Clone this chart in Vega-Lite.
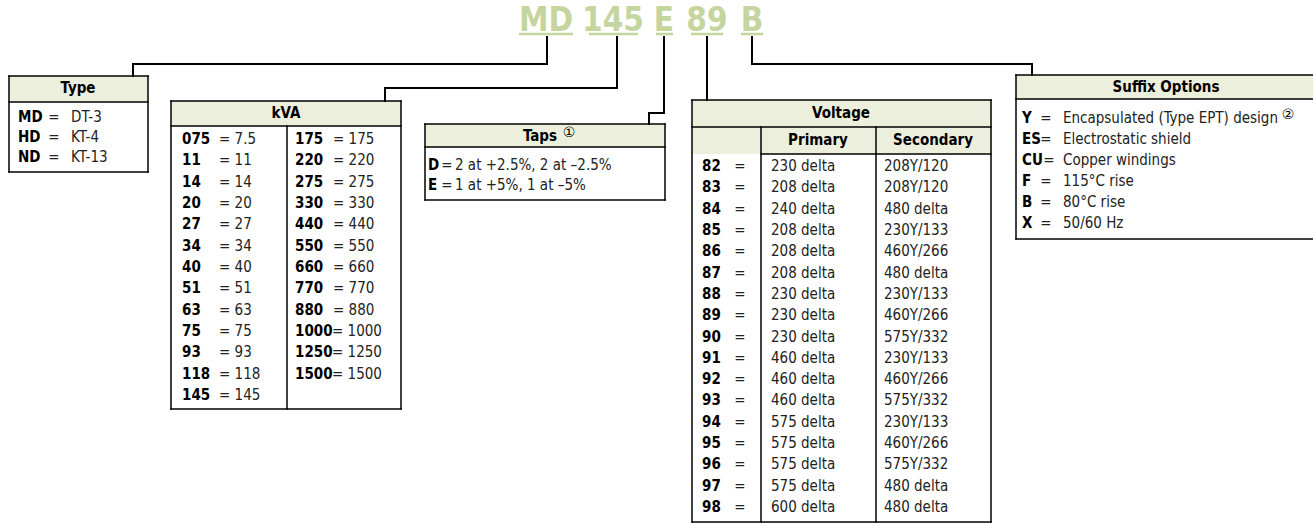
{
"$schema":"https://vega.github.io/schema/vega-lite/v6.json",
"width":1313,"height":523,"autosize":{"type":"none"},"padding":0,"background":"white",
"config":{"view":{"stroke":null},"text":{"font":"DejaVu Sans Condensed, sans-serif"}},
"datasets":{
"fills":[{"x":9,"x2":148,"y":76,"y2":102},{"x":171,"x2":401,"y":101,"y2":126},{"x":425,"x2":665,"y":124,"y2":147},{"x":692,"x2":991,"y":100,"y2":154},{"x":1016,"x2":1313,"y":75,"y2":99}],
"borders":[
{"x":9,"y":76,"x2":148,"y2":76},{"x":9,"y":102,"x2":148,"y2":102},{"x":9,"y":172,"x2":148,"y2":172},{"x":9,"y":76,"x2":9,"y2":172},{"x":148,"y":76,"x2":148,"y2":172},
{"x":171,"y":101,"x2":401,"y2":101},{"x":171,"y":126,"x2":401,"y2":126},{"x":171,"y":409,"x2":401,"y2":409},{"x":171,"y":101,"x2":171,"y2":409},{"x":401,"y":101,"x2":401,"y2":409},{"x":287,"y":126,"x2":287,"y2":409},
{"x":425,"y":124,"x2":665,"y2":124},{"x":425,"y":147,"x2":665,"y2":147},{"x":425,"y":200,"x2":665,"y2":200},{"x":425,"y":124,"x2":425,"y2":200},{"x":665,"y":124,"x2":665,"y2":200},
{"x":692,"y":100,"x2":991,"y2":100},{"x":692,"y":127,"x2":991,"y2":127},{"x":761,"y":154,"x2":991,"y2":154},{"x":692,"y":522,"x2":991,"y2":522},{"x":692,"y":100,"x2":692,"y2":522},{"x":991,"y":100,"x2":991,"y2":522},{"x":761,"y":127,"x2":761,"y2":522},{"x":876,"y":127,"x2":876,"y2":522},
{"x":1016,"y":75,"x2":1313,"y2":75},{"x":1016,"y":99,"x2":1313,"y2":99},{"x":1016,"y":239,"x2":1313,"y2":239},{"x":1016,"y":75,"x2":1016,"y2":239}
],
"connectors":[
{"x":547,"y":37,"x2":547,"y2":64},{"x":133,"y":64,"x2":547,"y2":64},{"x":133,"y":64,"x2":133,"y2":76},
{"x":617,"y":37,"x2":617,"y2":88},{"x":385,"y":88,"x2":617,"y2":88},{"x":385,"y":88,"x2":385,"y2":101},
{"x":664,"y":37,"x2":664,"y2":113},{"x":649,"y":113,"x2":664,"y2":113},{"x":649,"y":113,"x2":649,"y2":124},
{"x":707,"y":37,"x2":707,"y2":100},
{"x":752,"y":37,"x2":752,"y2":64},{"x":752,"y":64,"x2":1032,"y2":64},{"x":1032,"y":64,"x2":1032,"y2":75}
],
"underlines":[{"x":519,"x2":573,"y":34},{"x":589,"x2":638,"y":34},{"x":656,"x2":673,"y":34},{"x":691,"x2":723,"y":34},{"x":741,"x2":763,"y":34}],
"title":[{"x":546,"y":31,"t":"MD"},{"x":613,"y":31,"t":"145"},{"x":664,"y":31,"t":"E"},{"x":707,"y":31,"t":"89"},{"x":752,"y":31,"t":"B"}],
"headers":[{"x":78,"y":88,"t":"Type"},{"x":286,"y":113,"t":"kVA"},{"x":540,"y":136,"t":"Taps"},{"x":841,"y":113,"t":"Voltage"},{"x":818,"y":140,"t":"Primary"},{"x":933,"y":140,"t":"Secondary"},{"x":1166,"y":87,"t":"Suffix Options"}],
"notes":[{"x":569,"y":133,"t":"①"},{"x":1288,"y":115,"t":"②"}],
"codes":[
{"x":18,"y":117,"t":"MD"},{"x":18,"y":137,"t":"HD"},{"x":18,"y":157,"t":"ND"},
{"x":182,"y":139,"t":"075"},{"x":182,"y":160.3,"t":"11"},{"x":182,"y":181.7,"t":"14"},{"x":182,"y":203,"t":"20"},{"x":182,"y":224.3,"t":"27"},{"x":182,"y":245.7,"t":"34"},{"x":182,"y":267,"t":"40"},{"x":182,"y":288.3,"t":"51"},{"x":182,"y":309.7,"t":"63"},{"x":182,"y":331,"t":"75"},{"x":182,"y":352.3,"t":"93"},{"x":182,"y":373.7,"t":"118"},{"x":182,"y":395,"t":"145"},
{"x":295,"y":139,"t":"175"},{"x":295,"y":160.3,"t":"220"},{"x":295,"y":181.7,"t":"275"},{"x":295,"y":203,"t":"330"},{"x":295,"y":224.3,"t":"440"},{"x":295,"y":245.7,"t":"550"},{"x":295,"y":267,"t":"660"},{"x":295,"y":288.3,"t":"770"},{"x":295,"y":309.7,"t":"880"},{"x":295,"y":331,"t":"1000"},{"x":295,"y":352.3,"t":"1250"},{"x":295,"y":373.7,"t":"1500"},
{"x":428,"y":165,"t":"D"},{"x":428,"y":185,"t":"E"},
{"x":702,"y":166,"t":"82"},{"x":702,"y":187.3,"t":"83"},{"x":702,"y":208.6,"t":"84"},{"x":702,"y":229.9,"t":"85"},{"x":702,"y":251.2,"t":"86"},{"x":702,"y":272.6,"t":"87"},{"x":702,"y":293.9,"t":"88"},{"x":702,"y":315.2,"t":"89"},{"x":702,"y":336.5,"t":"90"},{"x":702,"y":357.8,"t":"91"},{"x":702,"y":379.1,"t":"92"},{"x":702,"y":400.4,"t":"93"},{"x":702,"y":421.7,"t":"94"},{"x":702,"y":443,"t":"95"},{"x":702,"y":464.3,"t":"96"},{"x":702,"y":485.7,"t":"97"},{"x":702,"y":507,"t":"98"},
{"x":1022,"y":118,"t":"Y"},{"x":1022,"y":139,"t":"ES"},{"x":1022,"y":160,"t":"CU"},{"x":1022,"y":181,"t":"F"},{"x":1022,"y":202,"t":"B"},{"x":1022,"y":223,"t":"X"}
],
"equals":[
{"x":54,"y":117},{"x":54,"y":137},{"x":54,"y":157},
{"x":447,"y":165},{"x":447,"y":185},
{"x":740,"y":166},{"x":740,"y":187.3},{"x":740,"y":208.6},{"x":740,"y":229.9},{"x":740,"y":251.2},{"x":740,"y":272.6},{"x":740,"y":293.9},{"x":740,"y":315.2},{"x":740,"y":336.5},{"x":740,"y":357.8},{"x":740,"y":379.1},{"x":740,"y":400.4},{"x":740,"y":421.7},{"x":740,"y":443},{"x":740,"y":464.3},{"x":740,"y":485.7},{"x":740,"y":507},
{"x":1046,"y":118},{"x":1046,"y":139},{"x":1049,"y":160},{"x":1046,"y":181},{"x":1046,"y":202},{"x":1046,"y":223}
],
"vals":[
{"x":71,"y":117,"t":"DT-3"},{"x":71,"y":137,"t":"KT-4"},{"x":71,"y":157,"t":"KT-13"},
{"x":219,"y":139,"t":"= 7.5"},{"x":219,"y":160.3,"t":"= 11"},{"x":219,"y":181.7,"t":"= 14"},{"x":219,"y":203,"t":"= 20"},{"x":219,"y":224.3,"t":"= 27"},{"x":219,"y":245.7,"t":"= 34"},{"x":219,"y":267,"t":"= 40"},{"x":219,"y":288.3,"t":"= 51"},{"x":219,"y":309.7,"t":"= 63"},{"x":219,"y":331,"t":"= 75"},{"x":219,"y":352.3,"t":"= 93"},{"x":219,"y":373.7,"t":"= 118"},{"x":219,"y":395,"t":"= 145"},
{"x":333,"y":139,"t":"= 175"},{"x":333,"y":160.3,"t":"= 220"},{"x":333,"y":181.7,"t":"= 275"},{"x":333,"y":203,"t":"= 330"},{"x":333,"y":224.3,"t":"= 440"},{"x":333,"y":245.7,"t":"= 550"},{"x":333,"y":267,"t":"= 660"},{"x":333,"y":288.3,"t":"= 770"},{"x":333,"y":309.7,"t":"= 880"},{"x":332,"y":331,"t":"= 1000"},{"x":332,"y":352.3,"t":"= 1250"},{"x":332,"y":373.7,"t":"= 1500"},
{"x":455,"y":165,"t":"2 at +2.5%, 2 at –2.5%"},{"x":455,"y":185,"t":"1 at +5%, 1 at –5%"},
{"x":771,"y":166,"t":"230 delta"},{"x":771,"y":187.3,"t":"208 delta"},{"x":771,"y":208.6,"t":"240 delta"},{"x":771,"y":229.9,"t":"208 delta"},{"x":771,"y":251.2,"t":"208 delta"},{"x":771,"y":272.6,"t":"208 delta"},{"x":771,"y":293.9,"t":"230 delta"},{"x":771,"y":315.2,"t":"230 delta"},{"x":771,"y":336.5,"t":"230 delta"},{"x":771,"y":357.8,"t":"460 delta"},{"x":771,"y":379.1,"t":"460 delta"},{"x":771,"y":400.4,"t":"460 delta"},{"x":771,"y":421.7,"t":"575 delta"},{"x":771,"y":443,"t":"575 delta"},{"x":771,"y":464.3,"t":"575 delta"},{"x":771,"y":485.7,"t":"575 delta"},{"x":771,"y":507,"t":"600 delta"},
{"x":884,"y":166,"t":"208Y/120"},{"x":884,"y":187.3,"t":"208Y/120"},{"x":884,"y":208.6,"t":"480 delta"},{"x":884,"y":229.9,"t":"230Y/133"},{"x":884,"y":251.2,"t":"460Y/266"},{"x":884,"y":272.6,"t":"480 delta"},{"x":884,"y":293.9,"t":"230Y/133"},{"x":884,"y":315.2,"t":"460Y/266"},{"x":884,"y":336.5,"t":"575Y/332"},{"x":884,"y":357.8,"t":"230Y/133"},{"x":884,"y":379.1,"t":"460Y/266"},{"x":884,"y":400.4,"t":"575Y/332"},{"x":884,"y":421.7,"t":"230Y/133"},{"x":884,"y":443,"t":"460Y/266"},{"x":884,"y":464.3,"t":"575Y/332"},{"x":884,"y":485.7,"t":"480 delta"},{"x":884,"y":507,"t":"480 delta"},
{"x":1063,"y":118,"t":"Encapsulated (Type EPT) design"},{"x":1063,"y":139,"t":"Electrostatic shield"},{"x":1063,"y":160,"t":"Copper windings"},{"x":1063,"y":181,"t":"115°C rise"},{"x":1063,"y":202,"t":"80°C rise"},{"x":1063,"y":223,"t":"50/60 Hz"}
]
},
"layer":[
{"data":{"name":"fills"},"mark":{"type":"rect","fill":"#ecefdc"},
 "encoding":{"x":{"field":"x","type":"quantitative","scale":{"domain":[0,1313],"nice":false,"zero":false},"axis":null},"x2":{"field":"x2"},
 "y":{"field":"y","type":"quantitative","scale":{"domain":[0,523],"nice":false,"zero":false,"reverse":true},"axis":null},"y2":{"field":"y2"}}},
{"data":{"name":"borders"},"mark":{"type":"rule","stroke":"#000","strokeWidth":1.5,"strokeCap":"square"},
 "encoding":{"x":{"field":"x","type":"quantitative"},"x2":{"field":"x2"},"y":{"field":"y","type":"quantitative"},"y2":{"field":"y2"}}},
{"data":{"name":"connectors"},"mark":{"type":"rule","stroke":"#000","strokeWidth":2,"strokeCap":"square"},
 "encoding":{"x":{"field":"x","type":"quantitative"},"x2":{"field":"x2"},"y":{"field":"y","type":"quantitative"},"y2":{"field":"y2"}}},
{"data":{"name":"underlines"},"mark":{"type":"rule","stroke":"#c5d59e","strokeWidth":2.5},
 "encoding":{"x":{"field":"x","type":"quantitative"},"x2":{"field":"x2"},"y":{"field":"y","type":"quantitative"}}},
{"data":{"name":"title"},"mark":{"type":"text","fill":"#c5d59e","fontSize":33,"fontWeight":"bold","align":"center","baseline":"alphabetic"},
 "encoding":{"x":{"field":"x","type":"quantitative"},"y":{"field":"y","type":"quantitative"},"text":{"field":"t"}}},
{"data":{"name":"headers"},"mark":{"type":"text","fill":"#000","fontSize":15,"fontWeight":"bold","align":"center","baseline":"middle"},
 "encoding":{"x":{"field":"x","type":"quantitative"},"y":{"field":"y","type":"quantitative"},"text":{"field":"t"}}},
{"data":{"name":"notes"},"mark":{"type":"text","fill":"#000","fontSize":14,"align":"center","baseline":"middle","font":"DejaVu Sans"},
 "encoding":{"x":{"field":"x","type":"quantitative"},"y":{"field":"y","type":"quantitative"},"text":{"field":"t"}}},
{"data":{"name":"codes"},"mark":{"type":"text","fill":"#000","fontSize":15,"fontWeight":"bold","align":"left","baseline":"middle"},
 "encoding":{"x":{"field":"x","type":"quantitative"},"y":{"field":"y","type":"quantitative"},"text":{"field":"t"}}},
{"data":{"name":"equals"},"mark":{"type":"text","fill":"#222","fontSize":15,"align":"center","baseline":"middle","text":"="},
 "encoding":{"x":{"field":"x","type":"quantitative"},"y":{"field":"y","type":"quantitative"}}},
{"data":{"name":"vals"},"mark":{"type":"text","fill":"#222","fontSize":15,"align":"left","baseline":"middle"},
 "encoding":{"x":{"field":"x","type":"quantitative"},"y":{"field":"y","type":"quantitative"},"text":{"field":"t"}}}
]
}
